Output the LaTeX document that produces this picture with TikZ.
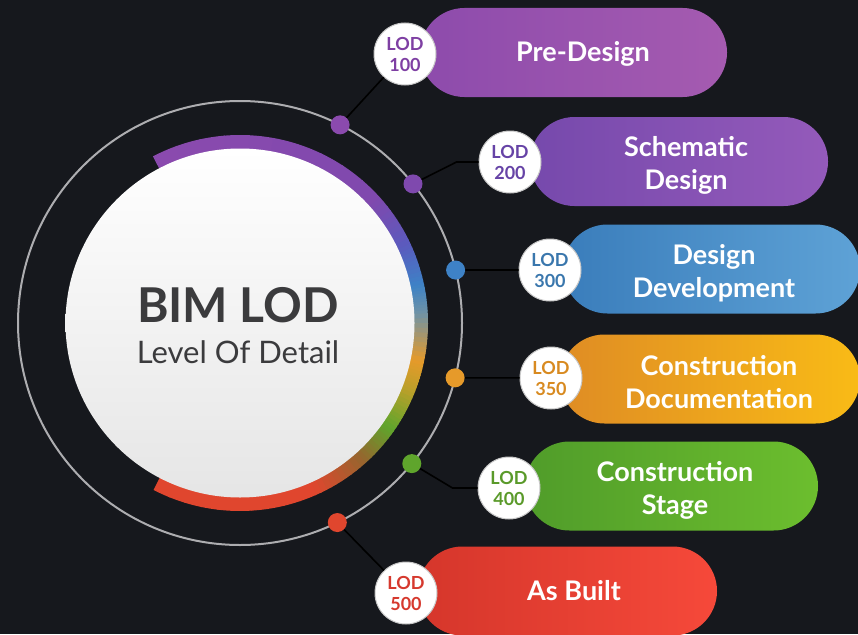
\documentclass[tikz,border=0pt]{standalone}
\usepackage{fontspec}
\setmainfont{Lato}
\usetikzlibrary{positioning,calc,shapes.misc}

\definecolor{bgdark}{HTML}{16181D}
\definecolor{ringgray}{HTML}{ADADB0}
\definecolor{inkgray}{HTML}{3B3B3D}
\definecolor{arcP}{HTML}{8B4AAE}
\definecolor{arcPb}{HTML}{7F49AE}
\definecolor{arcV}{HTML}{5A5BBE}
\definecolor{arcB}{HTML}{3E82C6}
\definecolor{arcS}{HTML}{6F93A6}
\definecolor{arcO}{HTML}{E69A2A}
\definecolor{arcY}{HTML}{B9A02A}
\definecolor{arcG}{HTML}{5FA52C}
\definecolor{arcBr}{HTML}{96662E}
\definecolor{arcR}{HTML}{E0462E}
\definecolor{lodA}{HTML}{7E3FA3}
\definecolor{lodB}{HTML}{6643A6}
\definecolor{lodC}{HTML}{3A77AD}
\definecolor{lodD}{HTML}{D88A20}
\definecolor{lodE}{HTML}{5A9A2A}
\definecolor{lodF}{HTML}{D6392E}
\definecolor{preL}{HTML}{8D4BAC}\definecolor{preR}{HTML}{A55BB0}
\definecolor{schL}{HTML}{7649AC}\definecolor{schR}{HTML}{945ABA}
\definecolor{dvpL}{HTML}{3A7DBB}\definecolor{dvpR}{HTML}{5EA2D6}
\definecolor{docL}{HTML}{DF8C24}\definecolor{docR}{HTML}{F9BB16}
\definecolor{stgL}{HTML}{509C2A}\definecolor{stgR}{HTML}{6CBE2E}
\definecolor{bltL}{HTML}{D5362B}\definecolor{bltR}{HTML}{F6493A}

\tikzset{
  pill/.style={rounded rectangle, minimum height=89pt, inner sep=0pt},
  pilltext/.style={text=white, align=center, font=\fontsize{27}{33}\selectfont\bfseries},
  lodball/.style={circle, fill=white, draw=gray!45, line width=1pt, minimum size=62pt,
    inner sep=0pt, align=center, font=\fontsize{18}{21}\selectfont\bfseries},
  ringdot/.style={circle, minimum size=19pt, inner sep=0pt},
  wire/.style={draw=black, line width=1.6pt},
}

\begin{document}
\begin{tikzpicture}[x=1pt,y=-1pt]
  \fill[bgdark] (0,0) rectangle (858,634);
  \useasboundingbox (0,0) rectangle (858,634);
  \coordinate (ctr) at (240,323);

  \draw[ringgray, line width=2pt] (ctr) circle[radius=222];

  % colour band round the core
  \foreach \aa/\ab/\ca/\cb in {-117.6/-42/arcP/arcPb, -42/-25/arcPb/arcV, -25/-12/arcV/arcB,
      -12/-3/arcB/arcS, -3/12/arcS/arcO, 12/22/arcO/arcY, 22/35/arcY/arcG,
      35/48/arcG/arcBr, 48/66/arcBr/arcR, 66/117/arcR/arcR} {
    \foreach \k in {0,...,9} {
      \pgfmathsetmacro\s{\aa+(\ab-\aa)*\k/10}
      \pgfmathsetmacro\e{\aa+(\ab-\aa)*(\k+1)/10+0.4}
      \pgfmathtruncatemacro\p{95-\k*10}
      \draw[draw=\ca!\p!\cb, line width=14pt] ($(ctr)+(\s:181)$) arc[start angle=\s, end angle=\e, radius=181];
    }
  }

  \node[circle, minimum size=349pt, inner sep=0pt, top color=white, bottom color=gray!20] (core) at (ctr) {};
  \node[text=inkgray, anchor=base, font=\fontsize{48}{52}\selectfont\bfseries] (bim) at (238,322) {BIM LOD};
  \node[text=inkgray, anchor=base, font=\fontsize{31}{35}\selectfont] (lvl) at (238,363) {Level Of Detail};

  \node[ringdot, fill=arcP] (d1) at ($(ctr)+(-63.2:222)$) {};
  \node[ringdot, fill=arcPb] (d2) at ($(ctr)+(-38.8:222)$) {};
  \node[ringdot, fill=arcB] (d3) at ($(ctr)+(-13.8:222)$) {};
  \node[ringdot, fill=arcO] (d4) at ($(ctr)+(14.3:222)$) {};
  \node[ringdot, fill=arcG] (d5) at ($(ctr)+(39.3:222)$) {};
  \node[ringdot, fill=arcR] (d6) at ($(ctr)+(64:222)$) {};

  \node[pill, minimum width=307pt, left color=preL, right color=preR] (p1) at (573.5,52.5) {};
  \node[pill, minimum width=298pt, left color=schL, right color=schR] (p2) at (679,161.5) {};
  \node[pill, minimum width=297pt, left color=dvpL, right color=dvpR] (p3) at (711.5,269) {};
  \node[pill, minimum width=300pt, left color=docL, right color=docR] (p4) at (710,379) {};
  \node[pill, minimum width=293pt, left color=stgL, right color=stgR] (p5) at (671.5,486) {};
  \node[pill, minimum width=299pt, left color=bltL, right color=bltR] (p6) at (567.5,591) {};

  \node[pilltext] (t1) at (583,53.5) {Pre-Design};
  \node[pilltext] (t2) at (686,165) {Schematic\\Design};
  \node[pilltext] (t3) at (714,273) {Design\\Development};
  \node[pilltext] (t4) at (719,382) {Construction\\Documentation};
  \node[pilltext] (t5) at (675,490) {Construction\\Stage};
  \node[pilltext] (t6) at (574,591) {As Built};

  \node[lodball, text=lodA] (l1) at (405,54) {LOD\\100};
  \node[lodball, text=lodB] (l2) at (510,162) {LOD\\200};
  \node[lodball, text=lodC] (l3) at (550,270) {LOD\\300};
  \node[lodball, text=lodD] (l4) at (551,378) {LOD\\350};
  \node[lodball, text=lodE] (l5) at (509,488) {LOD\\400};
  \node[lodball, text=lodF] (l6) at (406,593) {LOD\\500};

  \coordinate (k2) at ([xshift=-22pt]l2.west);
  \coordinate (k5) at ([xshift=-25pt]l5.west);
  \draw[wire] (d1) -- (l1);
  \draw[wire] (d2) -- (k2) -- (l2);
  \draw[wire] (d3) -- (l3);
  \draw[wire] (d4) -- (l4);
  \draw[wire] (d5) -- (k5) -- (l5);
  \draw[wire] (d6) -- (l6);
\end{tikzpicture}
\end{document}
